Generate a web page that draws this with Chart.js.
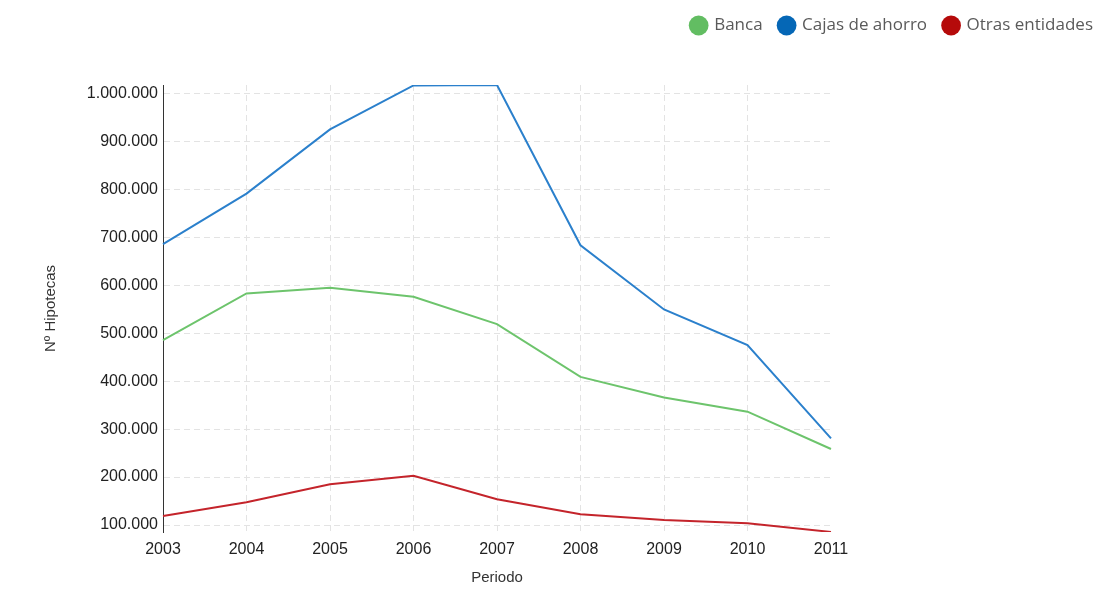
<!DOCTYPE html>
<html>
<head>
<meta charset="utf-8">
<title>Hipotecas por entidad</title>
<script src="https://cdn.jsdelivr.net/npm/chart.js@4/dist/chart.umd.min.js"></script>
<style>
  html, body { margin: 0; padding: 0; background: #ffffff; overflow: hidden; }
  #wrap { position: relative; width: 1093px; height: 598px; }
</style>
</head>
<body>
<div id="wrap"><canvas id="hipotecasGraph"></canvas></div>
<script>
/* Hipotecas por tipo de entidad, 2003-2011 */

const periodos = ['2003', '2004', '2005', '2006', '2007', '2008', '2009', '2010', '2011'];

const banca = [485700, 583000, 595000, 576000, 519000, 409000, 366000, 336500, 258500];
const cajasAhorro = [685800, 791500, 925500, 1017000, 1018000, 683700, 549700, 475200, 280700];
const otrasEntidades = [118800, 147300, 184800, 202800, 153600, 122300, 110400, 103500, 85500];

const yTicks = [100000, 200000, 300000, 400000, 500000, 600000, 700000, 800000, 900000, 1000000];
const yMin = 85400;
const yMax = 1018000;

// legend dots are darker than the lines
const legendColors = ['#62bd62', '#0567b6', '#b50a0a'];

function formatMiles(value) {
  return String(value).replace(/\B(?=(\d{3})+(?!\d))/g, '.');
}

const tickFont = { family: "'Liberation Sans', Arial, sans-serif", size: 16 };
const titleFont = { family: "'Liberation Sans', Arial, sans-serif", size: 15 };

// legend takes the whole band above the plot, items flush to the right edge
const legendBand = {
  id: 'legendBand',
  beforeInit(chart) {
    const legend = chart.legend;
    const origFit = legend.fit;
    legend.fit = function() {
      origFit.call(this);
      this.height = 85;
    };
  },
  afterLayout(chart) {
    chart.legend.right += chart.legend.options.labels.padding;
  }
};

const ctx = document.getElementById('hipotecasGraph').getContext('2d');
const hipotecasChart = new Chart(ctx, {
  type: 'line',
  plugins: [legendBand],
  data: {
    labels: periodos,
    datasets: [
      {
        label: 'Banca',
        data: banca,
        borderColor: '#6dc46c',
        backgroundColor: '#6dc46c',
        borderWidth: 2,
        pointRadius: 0,
        fill: false,
        tension: 0
      },
      {
        label: 'Cajas de ahorro',
        data: cajasAhorro,
        borderColor: '#2b80cc',
        backgroundColor: '#2b80cc',
        borderWidth: 2,
        pointRadius: 0,
        fill: false,
        tension: 0
      },
      {
        label: 'Otras entidades',
        data: otrasEntidades,
        borderColor: '#c4242b',
        backgroundColor: '#c4242b',
        borderWidth: 2,
        pointRadius: 0,
        fill: false,
        tension: 0
      }
    ]
  },
  options: {
    responsive: true,
    maintainAspectRatio: false,
    animation: false,
    layout: { padding: 0 },
    plugins: {
      tooltip: { enabled: false },
      legend: {
        position: 'top',
        align: 'end',
        labels: {
          usePointStyle: true,
          pointStyle: 'circle',
          boxWidth: 14,
          boxHeight: 14,
          padding: 17,
          color: '#5a5a5a',
          font: { family: "'Open Sans', sans-serif", size: 17 },
          generateLabels: function(chart) {
            const items = Chart.defaults.plugins.legend.labels.generateLabels(chart);
            items.forEach((item, i) => {
              item.fillStyle = legendColors[i];
              item.strokeStyle = legendColors[i];
              item.lineWidth = 0;
            });
            return items;
          }
        }
      }
    },
    scales: {
      x: {
        grid: {
          drawTicks: false,
          color: function(context) {
            return context.index === periodos.length - 1 ? 'rgba(0,0,0,0)' : '#e3e3e3';
          }
        },
        border: { display: false, dash: [6, 4] },
        ticks: {
          padding: 8,
          color: '#222',
          font: tickFont,
          maxRotation: 0,
          minRotation: 0
        },
        title: {
          display: true,
          text: 'Periodo',
          color: '#333',
          font: titleFont,
          padding: { top: 4, bottom: 11 }
        },
        afterFit: function(scale) {
          scale.height = 66;
          scale.paddingRight = 262;
        }
      },
      y: {
        min: yMin,
        max: yMax,
        grid: { drawTicks: false, color: '#e3e3e3' },
        border: { display: true, color: '#333', width: 1, dash: [6, 4] },
        ticks: {
          padding: 5,
          color: '#222',
          font: tickFont,
          callback: function(value) {
            return formatMiles(value);
          }
        },
        afterBuildTicks: function(scale) {
          scale.ticks = yTicks.map(v => ({ value: v }));
        },
        title: {
          display: true,
          text: 'Nº Hipotecas',
          color: '#333',
          font: titleFont,
          padding: { top: 42, bottom: 0 }
        },
        afterFit: function(scale) {
          scale.width = 163;
        }
      }
    }
  }
});
</script>
</body>
</html>
